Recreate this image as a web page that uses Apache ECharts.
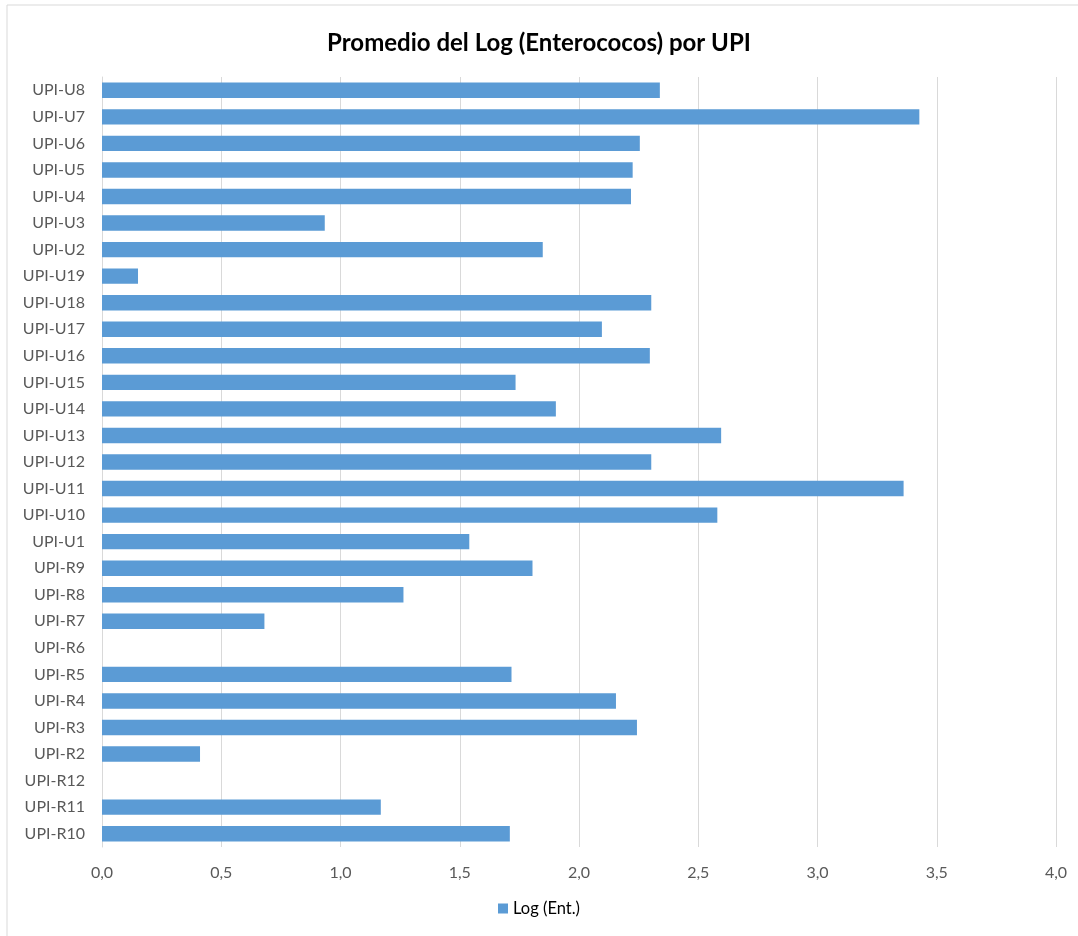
<!DOCTYPE html>
<html>
<head>
<meta charset="utf-8">
<script src="https://cdn.jsdelivr.net/npm/echarts@6/dist/echarts.min.js"></script>
<style>
  html, body { margin: 0; padding: 0; background: #fff; }
  #chart { width: 1078px; height: 936px; }
</style>
</head>
<body>
<div id="chart"></div>
<script>
// categories listed bottom to top (as ECharts draws a category y axis)
const categories = [
    'UPI-R10', 'UPI-R11', 'UPI-R12', 'UPI-R2', 'UPI-R3', 'UPI-R4', 'UPI-R5', 'UPI-R6',
    'UPI-R7', 'UPI-R8', 'UPI-R9', 'UPI-U1', 'UPI-U10', 'UPI-U11', 'UPI-U12', 'UPI-U13',
    'UPI-U14', 'UPI-U15', 'UPI-U16', 'UPI-U17', 'UPI-U18', 'UPI-U19', 'UPI-U2', 'UPI-U3',
    'UPI-U4', 'UPI-U5', 'UPI-U6', 'UPI-U7', 'UPI-U8'
];
const logEnt = [
    1.71, 1.169, 0, 0.411, 2.243, 2.155, 1.717, 0,
    0.681, 1.264, 1.805, 1.54, 2.58, 3.361, 2.303, 2.596,
    1.903, 1.734, 2.297, 2.096, 2.303, 0.151, 1.848, 0.934,
    2.218, 2.225, 2.255, 3.427, 2.339
];
const seriesName = 'Log (Ent.)';
const chartTitle = 'Promedio del Log (Enterococos) por UPI';

const FONT = 'Lato, "Open Sans", sans-serif';

const chart = echarts.init(document.getElementById('chart'));

chart.setOption({
    animation: false,
    textStyle: { fontFamily: FONT },
    graphic: [{
        type: 'rect',
        shape: { x: 7, y: 5, width: 1080, height: 940 },
        style: { fill: 'none', stroke: '#d9d9d9', lineWidth: 1 },
        silent: true
    }],
    title: {
        text: chartTitle,
        left: 'center',
        top: 26,
        textStyle: { fontFamily: FONT, fontSize: 24, fontWeight: 'bold', color: '#000' }
    },
    legend: {
        bottom: 14,
        left: 'center',
        itemWidth: 10,
        itemHeight: 10,
        itemGap: 10,
        icon: 'rect',
        textStyle: { fontFamily: FONT, fontSize: 16.5, color: '#000' },
        data: [seriesName]
    },
    grid: { left: 102, right: 22, top: 77, bottom: 89 },
    xAxis: {
        type: 'value',
        min: 0,
        max: 4,
        interval: 0.5,
        axisLine: { show: false },
        axisTick: { show: false },
        splitLine: { lineStyle: { color: '#d9d9d9', width: 1 } },
        axisLabel: {
            fontFamily: FONT,
            fontSize: 16,
            color: '#595959',
            margin: 18,
            formatter: v => v.toFixed(1).replace('.', ',')
        }
    },
    yAxis: {
        type: 'category',
        data: categories,
        axisLine: { show: true, lineStyle: { color: '#d9d9d9' } },
        axisTick: { show: false },
        axisLabel: { fontFamily: FONT, fontSize: 16, color: '#595959', margin: 17 }
    },
    series: [{
        name: seriesName,
        type: 'bar',
        data: logEnt,
        barCategoryGap: '42%',
        itemStyle: { color: '#5b9bd5' }
    }]
});
</script>
</body>
</html>
